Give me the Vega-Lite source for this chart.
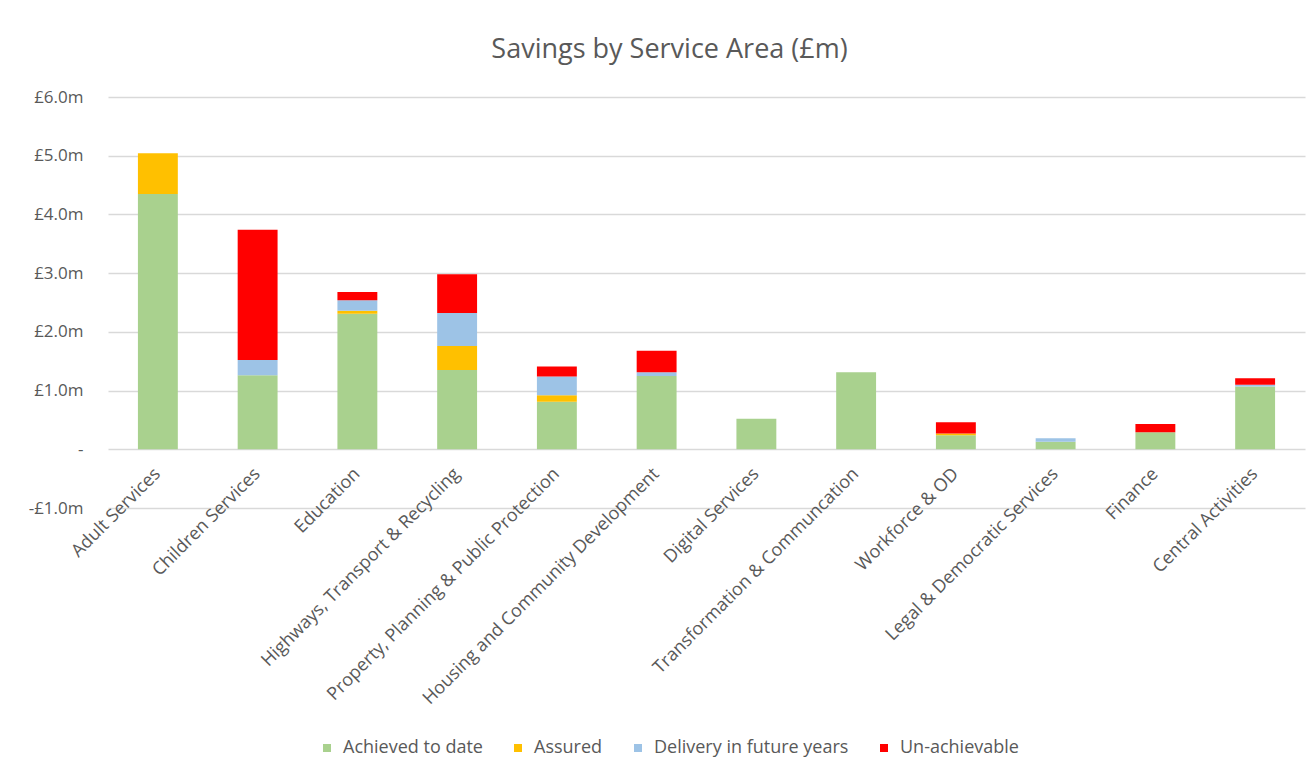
{
  "$schema": "https://vega.github.io/schema/vega-lite/v6.json",
  "autosize": {"type": "none"},
  "padding": {"left": 108, "top": 97, "right": 11, "bottom": 263},
  "width": 1197,
  "height": 411,
  "background": "white",
  "title": {
    "text": "Savings by Service Area (£m)",
    "anchor": "middle",
    "dx": -37,
    "offset": 3,
    "baseline": "alphabetic",
    "font": "Open Sans",
    "fontSize": 27,
    "fontWeight": "normal",
    "color": "#595959"
  },
  "data": {
    "values": [
      {"area": "Adult Services", "type": "Achieved to date", "value": 4.35},
      {"area": "Adult Services", "type": "Assured", "value": 0.69},
      {"area": "Children Services", "type": "Achieved to date", "value": 1.26},
      {"area": "Children Services", "type": "Delivery in future years", "value": 0.26},
      {"area": "Children Services", "type": "Un-achievable", "value": 2.22},
      {"area": "Education", "type": "Achieved to date", "value": 2.31},
      {"area": "Education", "type": "Assured", "value": 0.05},
      {"area": "Education", "type": "Delivery in future years", "value": 0.18},
      {"area": "Education", "type": "Un-achievable", "value": 0.14},
      {"area": "Highways, Transport & Recycling", "type": "Achieved to date", "value": 1.35},
      {"area": "Highways, Transport & Recycling", "type": "Assured", "value": 0.41},
      {"area": "Highways, Transport & Recycling", "type": "Delivery in future years", "value": 0.56},
      {"area": "Highways, Transport & Recycling", "type": "Un-achievable", "value": 0.66},
      {"area": "Property, Planning & Public Protection", "type": "Achieved to date", "value": 0.81},
      {"area": "Property, Planning & Public Protection", "type": "Assured", "value": 0.11},
      {"area": "Property, Planning & Public Protection", "type": "Delivery in future years", "value": 0.32},
      {"area": "Property, Planning & Public Protection", "type": "Un-achievable", "value": 0.17},
      {"area": "Housing and Community Development", "type": "Achieved to date", "value": 1.25},
      {"area": "Housing and Community Development", "type": "Delivery in future years", "value": 0.06},
      {"area": "Housing and Community Development", "type": "Un-achievable", "value": 0.37},
      {"area": "Digital Services", "type": "Achieved to date", "value": 0.52},
      {"area": "Transformation & Communcation", "type": "Achieved to date", "value": 1.31},
      {"area": "Workforce & OD", "type": "Achieved to date", "value": 0.24},
      {"area": "Workforce & OD", "type": "Assured", "value": 0.03},
      {"area": "Workforce & OD", "type": "Un-achievable", "value": 0.19},
      {"area": "Legal & Democratic Services", "type": "Achieved to date", "value": 0.13},
      {"area": "Legal & Democratic Services", "type": "Delivery in future years", "value": 0.06},
      {"area": "Finance", "type": "Achieved to date", "value": 0.29},
      {"area": "Finance", "type": "Un-achievable", "value": 0.14},
      {"area": "Central Activities", "type": "Achieved to date", "value": 1.07},
      {"area": "Central Activities", "type": "Delivery in future years", "value": 0.03},
      {"area": "Central Activities", "type": "Un-achievable", "value": 0.11}
    ]
  },
  "mark": {"type": "bar"},
  "encoding": {
    "x": {
      "field": "area",
      "type": "nominal",
      "sort": null,
      "scale": {"paddingInner": 0.6, "paddingOuter": 0.3},
      "axis": {
        "title": null,
        "orient": "bottom",
        "offset": -59,
        "domain": false,
        "ticks": false,
        "tickSize": 0,
        "labelAngle": -45,
        "labelAlign": "right",
        "labelBaseline": "middle",
        "labelPadding": 22,
        "labelFont": "Open Sans",
        "labelFontSize": 18,
        "labelColor": "#595959",
        "labelLimit": 0
      }
    },
    "y": {
      "field": "value",
      "type": "quantitative",
      "stack": "zero",
      "scale": {"domain": [-1, 6], "nice": false, "zero": false},
      "axis": {
        "title": null,
        "values": [-1, 0, 1, 2, 3, 4, 5, 6],
        "labelExpr": "datum.value == 0 ? '-  ' : (datum.value < 0 ? '-£' : '£') + format(abs(datum.value), '.1f') + 'm'",
        "domain": false,
        "ticks": false,
        "tickSize": 0,
        "labelPadding": 25,
        "labelFont": "Open Sans",
        "labelFontSize": 17,
        "labelColor": "#595959",
        "grid": true,
        "gridColor": "#d9d9d9",
        "gridWidth": 1.3
      }
    },
    "order": {"field": "type", "type": "nominal", "sort": "ascending"},
    "color": {
      "field": "type",
      "type": "nominal",
      "scale": {
        "domain": ["Achieved to date", "Assured", "Delivery in future years", "Un-achievable"],
        "range": ["#A9D18E", "#FFC000", "#9DC3E6", "#FF0000"]
      },
      "legend": {
        "title": null,
        "orient": "none",
        "legendX": 210,
        "legendY": 642,
        "direction": "horizontal",
        "columns": 4,
        "symbolType": "square",
        "symbolSize": 64,
        "symbolStrokeWidth": 0,
        "labelFont": "Open Sans",
        "labelFontSize": 18,
        "labelColor": "#595959",
        "labelOffset": 7,
        "columnPadding": 26,
        "labelLimit": 0
      }
    }
  },
  "config": {"view": {"stroke": null}}
}
